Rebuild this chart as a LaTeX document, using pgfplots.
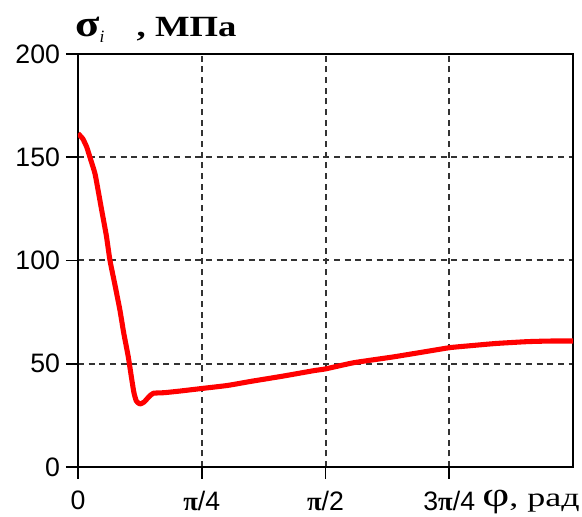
\documentclass[border=0pt]{standalone}
\usepackage{fontspec}
\setmainfont{Liberation Sans}
\newfontfamily\serif{Liberation Serif}
\usepackage{pgfplots}
\pgfplotsset{compat=1.18}
\pgfplotstableread{
x y
0 161.5
0.03 159
0.055 155
0.08 149
0.108 142
0.13 133
0.150 124.5
0.18 112
0.203 100
0.235 88
0.266 76
0.29 65
0.319 53.4
0.34 43
0.355 36
0.37 32
0.393 30.5
0.42 31.5
0.45 34
0.478 35.7
0.55 36
0.65 36.8
0.795 38.1
0.95 39.5
1.1 41.5
1.3 44
1.5 46.7
1.5708 47.5
1.75 50.5
2.0 53.3
2.2 55.8
2.36 57.8
2.5 58.8
2.65 59.8
2.85 60.7
3.0 61
3.1416 61
}\curve
\begin{document}
\begin{tikzpicture}
\begin{axis}[
  scale only axis,
  width=371.25pt, height=309.75pt,
  xmin=0, xmax=3.14159, ymin=0, ymax=200,
  xtick={0,0.785398,1.570796,2.356194},
  xticklabels={0,{\serif\bfseries π}/4,{\serif\bfseries π}/2,3{\serif\bfseries π}/4},
  ytick={0,50,100,150,200},
  tick pos=left,
  tick align=outside,
  major tick length=9pt,
  tick style={black, line width=1.2pt},
  axis line style={black, line width=1.3pt},
  grid=major,
  grid style={black!80, dash pattern=on 4.5pt off 3.5pt, line width=1.5pt},
  major grid style={black!80, dash pattern=on 4.5pt off 3.5pt, line width=1.5pt},
  /pgf/number format/assume math mode=true,
  ticklabel style={font=\fontsize{20}{22}\selectfont},
  yticklabel style={xshift=-1pt},
  xticklabel style={yshift=-5.5pt},
]
\addplot[red, line width=3.8pt, line join=round, smooth, tension=0.3] table[x=x,y=y] {\curve};
\end{axis}
\node[anchor=base west, inner sep=0pt] at ([xshift=-2.25pt,yshift=13pt]current axis.north west)
  {\serif\fontsize{22}{24}\selectfont\scalebox{1.2}[1]{\fontsize{28}{28}\selectfont\textbf{σ}}\raisebox{-0.4ex}{\fontsize{13}{13}\selectfont\itshape i}\hspace{1.1em}\scalebox{1.25}[1]{\textbf{, МПа}}};
\node[anchor=base east, inner sep=0pt] at ([xshift=5.25pt,yshift=-30pt]current axis.south east)
  {\scalebox{1.35}[1]{\serif{\fontsize{26}{26}\selectfont φ}\fontsize{20}{22}\selectfont, рад}};
\pgfresetboundingbox
\path ([shift={(-58.5pt,-37.5pt)}]current axis.south west) rectangle ([shift={(6.75pt,40.5pt)}]current axis.north east);
\end{tikzpicture}
\end{document}
